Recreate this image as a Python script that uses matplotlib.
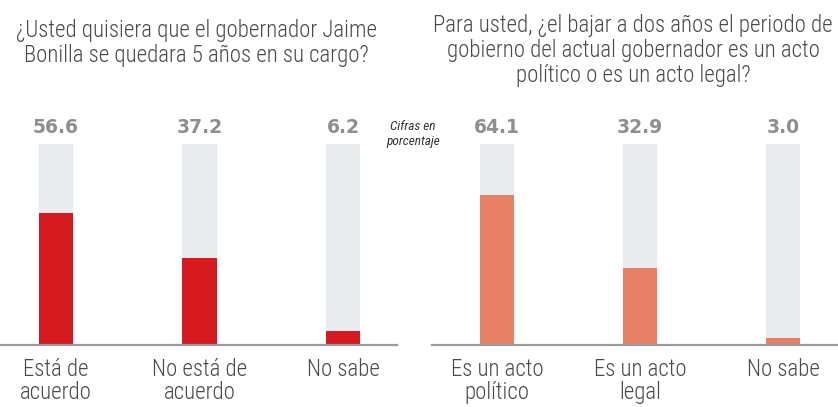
import matplotlib
matplotlib.use("Agg")
import matplotlib.pyplot as plt

# ---- data ----
left_title = ["¿Usted quisiera que el gobernador Jaime",
              "Bonilla se quedara 5 años en su cargo?"]
left_categories = ["Está de\nacuerdo", "No está de\nacuerdo", "No sabe"]
left_values = [56.6, 37.2, 6.2]

right_title = ["Para usted, ¿el bajar a dos años el periodo de",
               "gobierno del actual gobernador es un acto",
               "político o es un acto legal?"]
right_categories = ["Es un acto\npolítico", "Es un acto\nlegal", "No sabe"]
right_values = [64.1, 32.9, 3.0]

note_text = "Cifras en\nporcentaje"
track_max = 86  # height of light background track, in data units

# ---- style ----
W, H = 838, 407
DPI = 100
RED = "#D71920"
SALMON = "#E88066"
TRACK = "#E8ECEF"
NUM_GRAY = "#8E8E8E"
TXT = "#4A4A4A"
AXIS = "#9B9B9B"
FONT = "Roboto Condensed"
LIGHT = 300

fig = plt.figure(figsize=(W / DPI, H / DPI), dpi=DPI)
fig.patch.set_facecolor("white")


def px_axes(x0, x1, ytop, ybot):
    return fig.add_axes([x0 / W, (H - ybot) / H, (x1 - x0) / W, (ybot - ytop) / H])


def draw_panel(ax, cats, vals, color, xlim):
    xs = list(range(len(vals)))
    ax.bar(xs, [track_max] * len(vals), width=0.237, color=TRACK, zorder=1)
    ax.bar(xs, vals, width=0.237, color=color, zorder=2)
    ax.set_xlim(*xlim)
    ax.set_ylim(0, track_max)
    for s in ["top", "right", "left"]:
        ax.spines[s].set_visible(False)
    ax.spines["bottom"].set_color(AXIS)
    ax.spines["bottom"].set_linewidth(1.6)
    ax.spines["bottom"].set_zorder(3)
    ax.set_yticks([])
    ax.set_xticks(xs)
    ax.set_xticklabels(cats, fontsize=16.5, family=FONT, fontweight=LIGHT,
                       color=TXT, linespacing=1.04)
    ax.tick_params(axis="x", length=0, pad=9)
    ax.patch.set_alpha(0)
    for x, v in zip(xs, vals):
        ax.text(x, track_max + 7, f"{v:.1f}", ha="center", va="center",
                fontsize=13.5, fontweight="bold", color=NUM_GRAY,
                family="DejaVu Sans", clip_on=False)


axL = px_axes(0, 397, 144, 345)
draw_panel(axL, left_categories, left_values, RED, (-0.390, 2.376))

axR = px_axes(432, 837, 144, 345)
draw_panel(axR, right_categories, right_values, SALMON, (-0.455, 2.378))

# titles
for i, line in enumerate(left_title):
    fig.text(196 / W, 1 - (37 + 25 * i) / H, line, ha="center", va="baseline",
             fontsize=16.5, family=FONT, fontweight=LIGHT, color=TXT)
for i, line in enumerate(right_title):
    fig.text(633 / W, 1 - (32 + 25 * i) / H, line, ha="center", va="baseline",
             fontsize=16.5, family=FONT, fontweight=LIGHT, color=TXT)

fig.text(413 / W, 1 - 134 / H, note_text, ha="center", va="center",
         fontsize=9.5, family=FONT, style="italic", color="#333333",
         linespacing=1.25)

fig.savefig("out.png", dpi=DPI)
